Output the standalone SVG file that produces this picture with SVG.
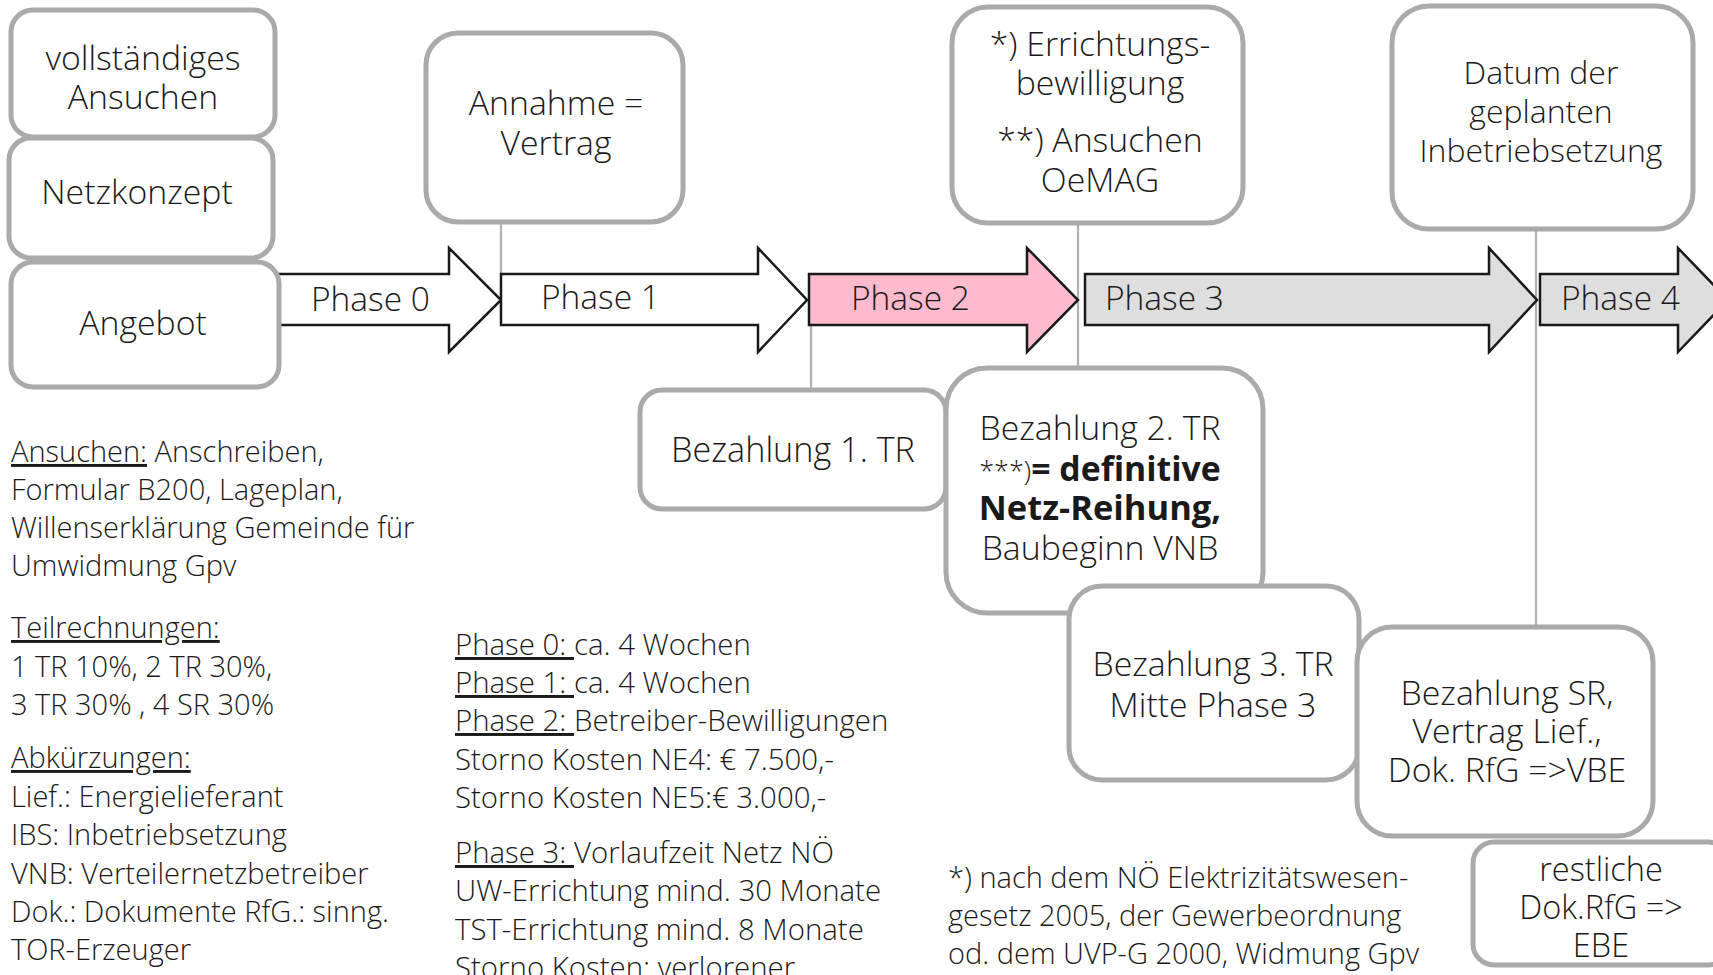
<svg xmlns="http://www.w3.org/2000/svg" width="1713" height="975" viewBox="0 0 1713 975">
<style>
.box{fill:#ffffff;stroke:#aaaaaa;stroke-width:5}
.arr{stroke:#1a1a1a;stroke-width:2.5;stroke-linejoin:miter}
.con{stroke:#b0b0b0;stroke-width:2.2;fill:none}
text{font-family:"Open Sans","Noto Sans","Liberation Sans",sans-serif;fill:#1a1a1a;font-weight:300}
.bt{font-size:33.8px;text-anchor:middle}
.pt{font-size:33.5px}
.nt{font-size:29px}
.mt{font-size:29.4px}
.ft{font-size:29px}
.u{text-decoration:underline}
.b{font-weight:bold}
</style>
<rect width="1713" height="975" fill="#ffffff"/>
<g id="connectors">
<line class="con" x1="501" y1="222" x2="501" y2="274"/>
<line class="con" x1="811" y1="325" x2="811" y2="390"/>
<line class="con" x1="1078" y1="223" x2="1078" y2="368"/>
<line class="con" x1="1536" y1="229" x2="1536" y2="627"/>
</g>
<g id="phase0">
<polygon class="arr" fill="#ffffff" points="275,274 449,274 449,248 501,300 449,352 449,325 275,325"/>
<text class="pt" x="311" y="311">Phase 0</text>
</g>
<g id="phase1">
<polygon class="arr" fill="#ffffff" points="501,274 758,274 758,248 807,300 758,352 758,325 501,325"/>
<text class="pt" x="541" y="309">Phase 1</text>
</g>
<g id="phase2">
<polygon class="arr" fill="#ffbacd" points="809,274 1027,274 1027,248 1078,300 1027,352 1027,325 809,325"/>
<text class="pt" x="851" y="310">Phase 2</text>
</g>
<g id="phase3">
<polygon class="arr" fill="#dedede" points="1085,274 1489,274 1489,248 1537,300 1489,352 1489,325 1085,325"/>
<text class="pt" x="1105" y="310">Phase 3</text>
</g>
<g id="phase4">
<polygon class="arr" fill="#dedede" points="1540,274 1678,274 1678,248 1728,300 1678,352 1678,325 1540,325"/>
<text class="pt" x="1561" y="310">Phase 4</text>
</g>
<g id="vollstaendiges">
<rect class="box" x="11" y="10" width="264" height="127" rx="22"/>
<text class="bt" x="143" y="70">vollständiges</text>
<text class="bt" x="143" y="109">Ansuchen</text>
</g>
<g id="netzkonzept">
<rect class="box" x="9" y="138" width="264" height="120" rx="22"/>
<text class="bt" x="137" y="204">Netzkonzept</text>
</g>
<g id="angebot">
<rect class="box" x="11" y="262" width="268" height="125" rx="22"/>
<text class="bt" x="143" y="335">Angebot</text>
</g>
<g id="annahme">
<rect class="box" x="426" y="33" width="257" height="189" rx="32"/>
<text class="bt" x="556" y="115">Annahme =</text>
<text class="bt" x="556" y="155">Vertrag</text>
</g>
<g id="errichtung">
<rect class="box" x="952" y="7" width="291" height="216" rx="36"/>
<text class="bt" x="1100" y="56">*) Errichtungs-</text>
<text class="bt" x="1100" y="95">bewilligung</text>
<text class="bt" x="1100" y="152">**) Ansuchen</text>
<text class="bt" x="1100" y="192">OeMAG</text>
</g>
<g id="datum">
<rect class="box" x="1392" y="6" width="301" height="223" rx="37"/>
<text class="bt" x="1541" y="84" style="font-size:32px">Datum der</text>
<text class="bt" x="1541" y="123" style="font-size:32px">geplanten</text>
<text class="bt" x="1541" y="162" style="font-size:32px">Inbetriebsetzung</text>
</g>
<g id="bezahlung1">
<rect class="box" x="640" y="390" width="306" height="119" rx="22"/>
<text class="bt" x="793" y="462" style="font-size:34.2px">Bezahlung 1. TR</text>
</g>
<g id="bezahlung2">
<rect class="box" x="946" y="368" width="317" height="245" rx="41"/>
<text class="bt" x="1100" y="440">Bezahlung 2. TR</text>
<text class="bt" x="1100" y="481"><tspan style="font-size:27px">***)</tspan><tspan class="b">= definitive</tspan></text>
<text class="bt b" x="1100" y="520" style="font-size:34.5px">Netz-Reihung,</text>
<text class="bt" x="1100" y="560">Baubeginn VNB</text>
</g>
<g id="bezahlung3">
<rect class="box" x="1069" y="586" width="290" height="194" rx="33"/>
<text class="bt" x="1213" y="676">Bezahlung 3. TR</text>
<text class="bt" x="1213" y="717">Mitte Phase 3</text>
</g>
<g id="bezahlungSR">
<rect class="box" x="1357" y="627" width="296" height="209" rx="35"/>
<text class="bt" x="1507" y="705">Bezahlung SR,</text>
<text class="bt" x="1507" y="743">Vertrag Lief.,</text>
<text class="bt" x="1507" y="782">Dok. RfG =&gt;VBE</text>
</g>
<g id="restliche">
<rect class="box" x="1473" y="842" width="256" height="123" rx="21"/>
<text class="bt" x="1601" y="881" style="font-size:32.5px">restliche</text>
<text class="bt" x="1601" y="919" style="font-size:32.5px">Dok.RfG =&gt;</text>
<text class="bt" x="1601" y="957" style="font-size:32.5px">EBE</text>
</g>
<g id="notes-left">
<text class="nt" x="11" y="462"><tspan class="u">Ansuchen:</tspan> Anschreiben,</text>
<text class="nt" x="11" y="500">Formular B200, Lageplan,</text>
<text class="nt" x="11" y="538">Willenserklärung Gemeinde für</text>
<text class="nt" x="11" y="576">Umwidmung Gpv</text>
<text class="nt u" x="11" y="638">Teilrechnungen:</text>
<text class="nt" x="11" y="677">1 TR 10%, 2 TR 30%,</text>
<text class="nt" x="11" y="715">3 TR 30% , 4 SR 30%</text>
<text class="nt u" x="11" y="768">Abkürzungen:</text>
<text class="nt" x="11" y="807">Lief.: Energielieferant</text>
<text class="nt" x="11" y="845">IBS: Inbetriebsetzung</text>
<text class="nt" x="11" y="884">VNB: Verteilernetzbetreiber</text>
<text class="nt" x="11" y="922">Dok.: Dokumente RfG.: sinng.</text>
<text class="nt" x="11" y="960">TOR-Erzeuger</text>
</g>
<g id="notes-middle">
<text class="mt" x="455" y="655"><tspan class="u">Phase 0: </tspan>ca. 4 Wochen</text>
<text class="mt" x="455" y="693"><tspan class="u">Phase 1: </tspan>ca. 4 Wochen</text>
<text class="mt" x="455" y="731"><tspan class="u">Phase 2: </tspan>Betreiber-Bewilligungen</text>
<text class="mt" x="455" y="770">Storno Kosten NE4: € 7.500,-</text>
<text class="mt" x="455" y="808">Storno Kosten NE5:€ 3.000,-</text>
<text class="mt" x="455" y="863"><tspan class="u">Phase 3: </tspan>Vorlaufzeit Netz NÖ</text>
<text class="mt" x="455" y="901">UW-Errichtung mind. 30 Monate</text>
<text class="mt" x="455" y="940">TST-Errichtung mind. 8 Monate</text>
<text class="mt" x="455" y="978">Storno Kosten: verlorener</text>
</g>
<g id="footnote">
<text class="ft" x="948" y="888">*) nach dem NÖ Elektrizitätswesen-</text>
<text class="ft" x="948" y="926">gesetz 2005, der Gewerbeordnung</text>
<text class="ft" x="948" y="964">od. dem UVP-G 2000, Widmung Gpv</text>
</g>
</svg>
